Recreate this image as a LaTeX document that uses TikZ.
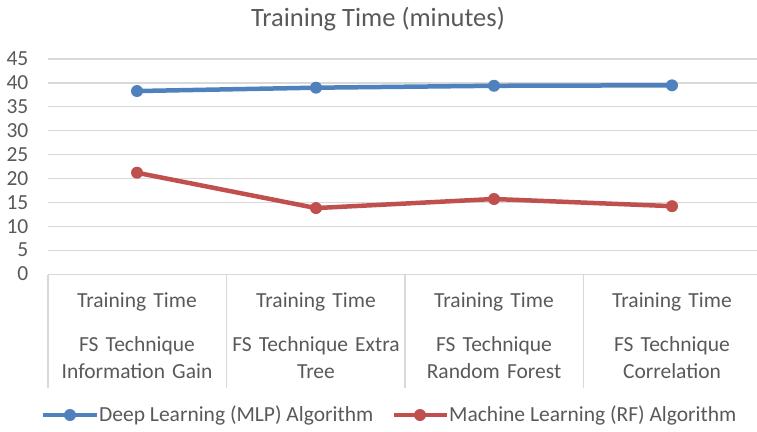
\documentclass[tikz,border=0pt]{standalone}
\usepackage{fontspec}
\setmainfont{Carlito}
\usepackage{tikz}
\usetikzlibrary{positioning}
\definecolor{mlpcol}{HTML}{4F81BD}
\definecolor{rfcol}{HTML}{C0504D}
\definecolor{labelcol}{HTML}{595959}
\definecolor{gridcol}{HTML}{D9D9D9}

\begin{document}
\begin{tikzpicture}[x=1pt, y=-1pt, font=\fontsize{21.5}{27}\selectfont, text=labelcol,
  grid/.style={draw=gridcol, line width=1.2pt},
  series/.style={draw=#1, line width=4.5pt, line join=round},
  dot/.style={circle, fill=#1, inner sep=0pt, minimum size=12pt},
  catlabel/.style={align=center, text width=178pt},
  ticklabel/.style={anchor=east, inner sep=0pt}]
\useasboundingbox (0,0) rectangle (757,431);
% title
\node[font=\fontsize{26.5}{30}\selectfont] (title) at (378,19) {Training Time (minutes)};
% category frame
\draw[grid] (48,274.5) -- (757,274.5);
\foreach \xx/\nm in {48/a,226.5/b,405/c,583.5/d}
  \draw[grid] (\xx,274.5) -- (\xx,388);
% category labels
\node[catlabel] (c1t) at (137,302) {Training Time};
\node[catlabel] (c2t) at (316,302) {Training Time};
\node[catlabel] (c3t) at (494,302) {Training Time};
\node[catlabel] (c4t) at (672,302) {Training Time};
\node[catlabel] (c1f) at (137,358) {FS Technique\\Information Gain};
\node[catlabel] (c2f) at (316,358) {FS Technique Extra\\Tree};
\node[catlabel] (c3f) at (494,358) {FS Technique\\Random Forest};
\node[catlabel] (c4f) at (672,358) {FS Technique\\Correlation};
% value axis: 0 at y=274, one unit = 4.777px upwards
\begin{scope}[shift={(0,274)}, y=4.777pt]
\foreach \v in {5,10,...,45}
  \draw[grid] (48,\v) -- (757,\v);
\foreach \v in {0,5,...,45}
  \node[ticklabel] (t\v) at (28.5,\v) {\v};
% Deep Learning (MLP)
\node[dot=mlpcol] (m1) at (137,38.3) {};
\node[dot=mlpcol] (m2) at (316,39.0) {};
\node[dot=mlpcol] (m3) at (494,39.4) {};
\node[dot=mlpcol] (m4) at (672,39.5) {};
% Machine Learning (RF)
\node[dot=rfcol] (r1) at (137,21.2) {};
\node[dot=rfcol] (r2) at (316,13.8) {};
\node[dot=rfcol] (r3) at (494,15.7) {};
\node[dot=rfcol] (r4) at (672,14.2) {};
\end{scope}
\draw[series=mlpcol] (m1.center) -- (m2.center) -- (m3.center) -- (m4.center);
\draw[series=rfcol] (r1.center) -- (r2.center) -- (r3.center) -- (r4.center);
% legend
\coordinate (lma) at (43,415);
\coordinate (lmb) at (97,415);
\draw[series=mlpcol] (lma) -- (lmb);
\node[dot=mlpcol] (lm) at (70,415) {};
\node[anchor=west, inner sep=0pt] (lmt) at (99,415) {Deep Learning (MLP) Algorithm};
\coordinate (lra) at (394,415);
\coordinate (lrb) at (447,415);
\draw[series=rfcol] (lra) -- (lrb);
\node[dot=rfcol] (lr) at (420,415) {};
\node[anchor=west, inner sep=0pt] (lrt) at (449,415) {Machine Learning (RF) Algorithm};
\end{tikzpicture}
\end{document}
